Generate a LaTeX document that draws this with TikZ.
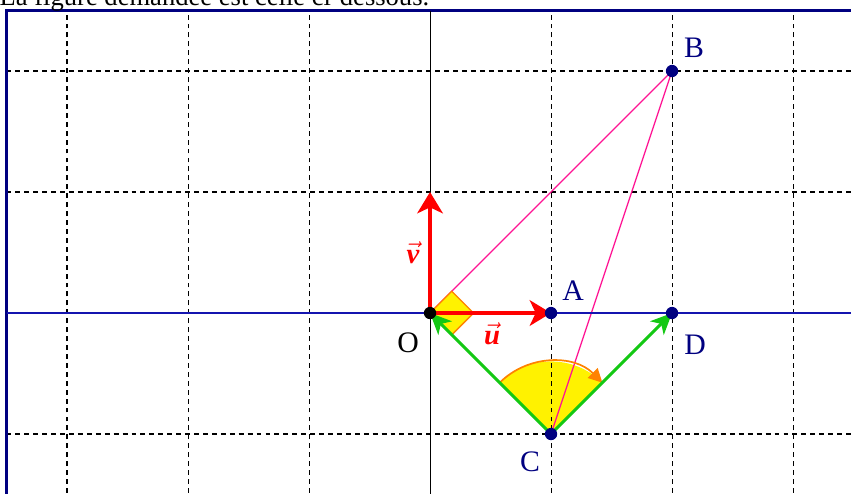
\documentclass[tikz,border=0pt]{standalone}
\usepackage{fontspec}
\setmainfont{Liberation Serif}
\usetikzlibrary{arrows.meta}
\definecolor{navyc}{RGB}{0,0,128}
\definecolor{axisblue}{RGB}{20,20,175}
\definecolor{pinkc}{RGB}{255,20,147}
\definecolor{greenc}{RGB}{20,200,20}
\definecolor{orangec}{RGB}{255,130,0}
\begin{document}
\begin{tikzpicture}[x=2cm,y=2cm,
  font=\fontsize{12.5}{15}\selectfont,
  gridline/.style={black, line width=0.5pt, dash pattern=on 2.3pt off 1.9pt},
  frameline/.style={navyc, line width=1.4pt},
  redvec/.style={red, line width=2.2pt, -{Stealth[length=10pt,width=12pt,inset=2.8pt]}},
  greenvec/.style={greenc, line width=1.4pt, -{Stealth[length=10pt,width=9pt,inset=2.8pt]}},
  segpink/.style={pinkc, line width=0.6pt},
  pt/.style={circle, fill=navyc, inner sep=0pt, minimum size=5.8pt},
  lab/.style={text=navyc, inner sep=0pt, font=\fontsize{14}{16}\selectfont},
  veclab/.style={text=red, inner sep=0pt, font=\fontsize{13.5}{16}\selectfont}]
\clip (-3.554,-1.488) rectangle (3.479,2.587);
\coordinate (O) at (0,0);
\coordinate (A) at (1,0);
\coordinate (D) at (2,0);
\coordinate (B) at (2,2);
\coordinate (C) at (1,-1);
\coordinate (V) at (0,1);
\coordinate (S1) at (0.18,0.18);
\coordinate (S2) at (0.36,0);
\coordinate (S3) at (0.18,-0.18);
\coordinate (FL) at (-3.5,-1.56);
\coordinate (FR) at (3.56,2.5);
% angle sector fill
\fill[yellow] (C) -- ++(135:0.6) arc[start angle=135,end angle=45,radius=0.6] -- cycle;
% grid
\draw[gridline] (FL) grid[step=1] (FR);
% frame
\draw[frameline] (FL) rectangle (FR);
% pink segments
\draw[segpink] (O) -- (B) -- (C);
% right angle marker
\draw[orangec, line width=0.6pt, fill=yellow] (O) -- (S1) -- (S2) -- (S3) -- cycle;
% axes
\draw[axisblue, line width=0.7pt] (-3.5,0) -- (3.56,0);
\draw[black, line width=0.5pt] (0,-1.56) -- (0,2.5);
% angle arc
\draw[orangec, line width=0.8pt, -{Triangle[length=6.5pt,width=6.5pt]}] ([shift={(135:0.6)}]C) arc[start angle=135,end angle=45,radius=0.6];
% green vectors
\draw[greenvec] (C) -- (O);
\draw[greenvec] (C) -- (D);
% red vectors
\draw[redvec] (O) -- (A);
\draw[redvec] (O) -- (V);
% points
\node[pt, fill=black] (Op) at (O) {};
\node[pt] (Ap) at (A) {};
\node[pt] (Bp) at (B) {};
\node[pt] (Cp) at (C) {};
\node[pt] (Dp) at (D) {};
% labels
\node[lab] (Bl) at (2.182,2.19) {B};
\node[lab] (Al) at (1.182,0.182) {A};
\node[lab] (Dl) at (2.19,-0.264) {D};
\node[lab] (Cl) at (0.826,-1.231) {C};
\node[lab, text=black] (Ol) at (-0.182,-0.248) {O};
\node[veclab] (ul) at (0.512,-0.17) {$\vec{\textbf{\textit{u}}}$};
\node[veclab] (vl) at (-0.14,0.5) {$\vec{\textbf{\textit{v}}}$};
\node[anchor=base west, inner sep=0pt] (title) at (-3.56,2.545) {La figure demandée est celle ci-dessous.};
\end{tikzpicture}
\end{document}
